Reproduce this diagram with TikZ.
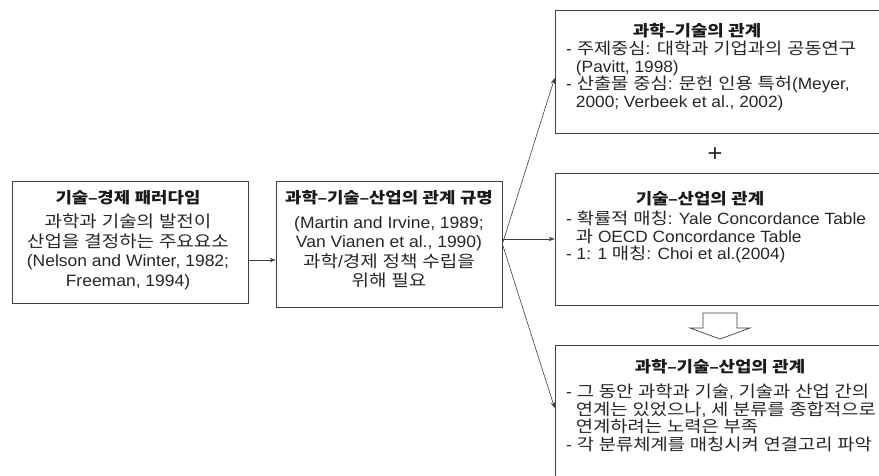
\documentclass[tikz,border=0pt]{standalone}
\usepackage{fontspec}
\setmainfont{Liberation Sans}[FakeStretch=1.06]
\newfontfamily\krfont{Noto Sans CJK KR}[FakeStretch=1.15]
\usetikzlibrary{arrows.meta}
\XeTeXinterchartokenstate=1
\newXeTeXintercharclass\KRclass
\makeatletter
\@tempcnta="AC00
\loop\ifnum\@tempcnta<"D7A4
  \XeTeXcharclass\@tempcnta=\KRclass
  \advance\@tempcnta by 1
\repeat
\makeatother
\XeTeXinterchartoks 0 \KRclass = {\begingroup\krfont}
\XeTeXinterchartoks 4095 \KRclass = {\begingroup\krfont}
\XeTeXinterchartoks \KRclass 0 = {\endgroup}
\XeTeXinterchartoks \KRclass 4095 = {\endgroup}
\newcommand\ind{\hspace*{0.6em}}
\begin{document}
\begin{tikzpicture}[x=1pt,y=-1pt,
  box/.style={draw=black!75, line width=0.7pt, inner sep=0pt},
  arr/.style={draw=black!75, line width=0.6pt, -{Stealth[length=6pt,width=4.5pt]}},
  ttl/.style={font=\fontsize{15.5}{19.5}\selectfont\bfseries, text=black!90, inner sep=0pt},
  bodyc/.style={font=\fontsize{16.5}{19.5}\selectfont, text=black!85, align=center, inner sep=0pt},
  bodyl/.style={font=\fontsize{16.3}{17.5}\selectfont, text=black!85, align=left, inner sep=0pt, anchor=west},
]
\useasboundingbox (0,0) rectangle (879,475);
% boxes
\node[box, minimum width=236pt, minimum height=122pt] (b1) at (130,242) {};
\node[box, minimum width=226pt, minimum height=126pt] (b2) at (389,244) {};
\node[box, minimum width=330pt, minimum height=123pt] (tr) at (720,71.5) {};
\node[box, minimum width=330pt, minimum height=132pt] (mid) at (720,239) {};
\node[box, minimum width=330pt, minimum height=140pt] (bot) at (720,415) {};
% texts
\node[ttl] (b1t) at (128,198) {기술–경제 패러다임};
\node[bodyc] (b1x) at (128,252) {과학과 기술의 발전이\\산업을 결정하는 주요요소\\(Nelson and Winter, 1982;\\Freeman, 1994)};
\node[ttl] (b2t) at (389,198) {과학–기술–산업의 관계 규명};
\node[bodyc] (b2x) at (389,252) {(Martin and Irvine, 1989;\\Van Vianen et al., 1990)\\과학/경제 정책 수립을\\위해 필요};
\node[ttl] (trt) at (697,31) {과학–기술의 관계};
\node[bodyl] (trx) at (566,76) {- 주제중심: 대학과 기업과의 공동연구\\\ind(Pavitt, 1998)\\- 산출물 중심: 문헌 인용 특허(Meyer,\\\ind 2000; Verbeek et al., 2002)};
\node[ttl] (midt) at (700,199) {기술–산업의 관계};
\node[bodyl] (midx) at (566,237) {- 확률적 매칭: Yale Concordance Table\\\ind 과 OECD Concordance Table\\- 1: 1 매칭: Choi et al.(2004)};
\node[ttl] (bott) at (720,367) {과학–기술–산업의 관계};
\node[bodyl] (botx) at (566,418) {- 그 동안 과학과 기술, 기술과 산업 간의\\\ind 연계는 있었으나, 세 분류를 종합적으로\\\ind 연계하려는 노력은 부족\\- 각 분류체계를 매칭시켜 연결고리 파악};
% plus and hollow arrow
\node[inner sep=0pt, text=black!85, font=\fontsize{24}{24}\selectfont] (plus) at (715,155) {+};
\draw[draw=black!75, line width=0.7pt, fill=white] (703,313) -- (737,313) -- (737,328) -- (750,328) -- (720,339) -- (690,328) -- (703,328) -- cycle;
% connectors
\draw[arr] ([yshift=-18pt]b1.east) -- ([yshift=-18pt]b1.east -| b2.west);
\draw[arr] ([yshift=5pt]b2.east) -- ([yshift=5pt]b2.east -| mid.west);
\draw[arr] (b2.east) -- ([yshift=-6.5pt]tr.west);
\draw[arr] (b2.east) -- ([yshift=7pt]bot.west);
\end{tikzpicture}
\end{document}
